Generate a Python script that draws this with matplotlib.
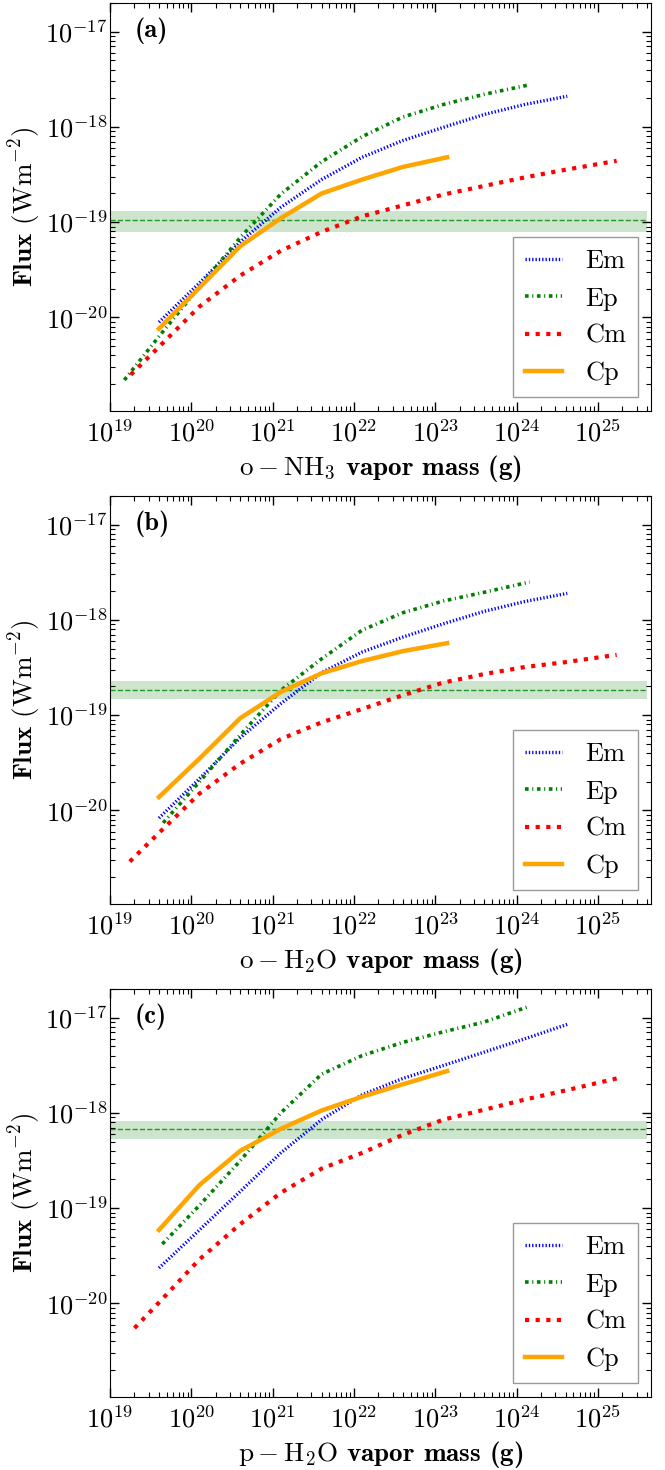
import numpy as np
import matplotlib
matplotlib.use('Agg')
import matplotlib.pyplot as plt
from matplotlib.ticker import LogLocator, FuncFormatter, NullFormatter

plt.rcParams['font.family'] = ['cmr10', 'DejaVu Serif']
plt.rcParams['mathtext.fontset'] = 'cm'
plt.rcParams['axes.unicode_minus'] = False

# ---- vapor mass grid (g) ----
mass_em = [4e19, 1.26e20, 4e20, 1.26e21, 4e21, 1.26e22, 4e22, 1.26e23, 4e23, 1.26e24, 4.2e24]
mass_ep_a = [1.5e19, 4e19, 1.26e20, 4e20, 1.26e21, 4e21, 1.26e22, 4e22, 1.26e23, 4e23, 1.45e24]
mass_ep_b = [4.5e19, 1.26e20, 4e20, 1.26e21, 4e21, 1.26e22, 4e22, 1.26e23, 4e23, 1.45e24]
mass_ep_c = [4.4e19, 1.26e20, 4e20, 1.26e21, 4e21, 1.26e22, 4e22, 1.26e23, 4e23, 1.45e24]
mass_cm_a = [1.8e19, 4e19, 1.26e20, 4e20, 1.26e21, 4e21, 1.26e22, 4e22, 1.26e23, 4e23, 1.26e24, 4e24, 1.7e25]
mass_cm_b = [1.75e19, 4e19, 1.26e20, 4e20, 1.26e21, 4e21, 1.26e22, 4e22, 1.26e23, 4e23, 1.26e24, 4e24, 1.7e25]
mass_cm_c = [2e19, 4e19, 1.26e20, 4e20, 1.26e21, 4e21, 1.26e22, 4e22, 1.26e23, 4e23, 1.26e24, 4e24, 1.7e25]
mass_cp = [4e19, 1.26e20, 4e20, 1.26e21, 4e21, 1.26e22, 4e22, 1.4e23]

# ---- line flux (W m^-2) ----
# (a) o-NH3
em_a = [8.9e-21, 2.3e-20, 6.2e-20, 1.43e-19, 2.8e-19, 4.8e-19, 7.2e-19, 9.9e-19, 1.35e-18, 1.72e-18, 2.1e-18]
ep_a = [2.2e-21, 6.3e-21, 2.1e-20, 6.9e-20, 1.97e-19, 4.3e-19, 7.9e-19, 1.27e-18, 1.72e-18, 2.2e-18, 2.77e-18]
cm_a = [2.5e-21, 4.9e-21, 1.3e-20, 2.75e-20, 5.0e-20, 7.9e-20, 1.15e-19, 1.5e-19, 1.95e-19, 2.4e-19, 2.95e-19, 3.55e-19, 4.4e-19]
cp_a = [7.6e-21, 2.05e-20, 5.6e-20, 1.1e-19, 2.0e-19, 2.8e-19, 3.8e-19, 4.8e-19]

# (b) o-H2O
em_b = [8.3e-21, 2.15e-20, 5.8e-20, 1.32e-19, 2.8e-19, 4.6e-19, 6.6e-19, 9.1e-19, 1.23e-18, 1.56e-18, 1.9e-18]
ep_b = [7.4e-21, 2.0e-20, 6.2e-20, 1.82e-19, 3.9e-19, 7.8e-19, 1.19e-18, 1.58e-18, 1.95e-18, 2.5e-18]
cm_b = [2.9e-21, 5.8e-21, 1.5e-20, 3.1e-20, 5.6e-20, 8.4e-20, 1.16e-19, 1.62e-19, 2.2e-19, 2.7e-19, 3.2e-19, 3.6e-19, 4.3e-19]
cp_b = [1.38e-20, 3.5e-20, 9.3e-20, 1.75e-19, 2.75e-19, 3.7e-19, 4.7e-19, 5.7e-19]

# (c) p-H2O
em_c = [2.35e-20, 5.9e-20, 1.5e-19, 3.8e-19, 8.5e-19, 1.55e-18, 2.3e-18, 3.15e-18, 4.35e-18, 6.0e-18, 8.5e-18]
ep_c = [4.2e-20, 1.07e-19, 3.15e-19, 1.0e-18, 2.55e-18, 4.0e-18, 5.5e-18, 7.1e-18, 9.0e-18, 1.32e-17]
cm_c = [5.5e-21, 1.02e-20, 2.9e-20, 6.8e-20, 1.45e-19, 2.6e-19, 3.8e-19, 5.9e-19, 8.5e-19, 1.08e-18, 1.38e-18, 1.72e-18, 2.3e-18]
cp_c = [5.9e-20, 1.75e-19, 4.0e-19, 6.8e-19, 1.06e-18, 1.48e-18, 2.0e-18, 2.75e-18]

# observed flux: (value, lower, upper)
obs_a = [1.05e-19, 0.79e-19, 1.3e-19]
obs_b = [1.84e-19, 1.46e-19, 2.26e-19]
obs_c = [6.8e-19, 5.3e-19, 8.2e-19]
obs_mass = [1e19, 4e25]

panel_tags = ['(a)', '(b)', '(c)']
species = [r'$\mathrm{o} - \mathrm{NH_3}$', r'$\mathrm{o} - \mathrm{H_2O}$', r'$\mathrm{p} - \mathrm{H_2O}$']

FS = 19      # ticks, legend
LFS = 19.5   # axis labels


def style_axes(ax):
    ax.set_xscale('log')
    ax.set_yscale('log')
    ax.set_xlim(1e19, 4.5e25)
    ax.set_ylim(1.04e-21, 2e-17)
    fmt = FuncFormatter(lambda v, p: r'$10^{%d}$' % int(round(np.log10(v))))
    for axis in (ax.xaxis, ax.yaxis):
        axis.set_major_locator(LogLocator(base=10, numticks=20))
        axis.set_minor_locator(LogLocator(base=10, subs=np.arange(2, 10), numticks=20))
        axis.set_major_formatter(fmt)
        axis.set_minor_formatter(NullFormatter())
    ax.tick_params(which='both', direction='in', top=True, right=True, labelsize=FS)
    ax.tick_params(which='major', length=6.5, width=1.0)
    ax.tick_params(which='minor', length=3.5, width=0.8)
    ax.tick_params(axis='x', pad=6)
    ax.tick_params(axis='y', pad=2)


def draw_panel(ax, tag, spec, em, ep, ep_mass, cm, cm_mass, cp, obs):
    ax.fill_between(obs_mass, obs[1], obs[2], color='green', alpha=0.2, lw=0)
    ax.plot(obs_mass, [obs[0], obs[0]], color='green', ls='--', lw=1.0, alpha=0.8)

    ax.plot(mass_em, em, color='blue', lw=2.4, ls=(0, (0.4, 0.6)), label='Em')
    ax.plot(ep_mass, ep, color='green', lw=2.6, ls=(0, (1, 1, 0.3, 1)), label='Ep')
    ax.plot(cm_mass, cm, color='red', lw=3.0, ls=(0, (1, 1.55)), label='Cm')
    ax.plot(mass_cp, cp, color='orange', lw=3.2, ls='-', label='Cp')

    style_axes(ax)
    ax.set_ylabel(r'Flux $(\mathrm{Wm^{-2}})$', fontsize=LFS, family='cmb10')
    ax.yaxis.set_label_coords(-0.122, 0.5)
    ax.set_xlabel(spec + ' vapor mass (g)', fontsize=LFS, family='cmb10')
    ax.xaxis.set_label_coords(0.5, -0.103)
    ax.text(0.045, 0.965, tag, transform=ax.transAxes, fontsize=FS,
            family='cmb10', va='top', ha='left')

    leg = ax.legend(loc='lower right', bbox_to_anchor=(0.9765, 0.0336), borderaxespad=0,
                    fontsize=FS, fancybox=False, framealpha=1, edgecolor='#999999',
                    handlelength=1.4, handletextpad=0.9, labelspacing=0.52,
                    borderpad=0.45)
    leg.get_frame().set_linewidth(1.0)


fig = plt.figure(figsize=(6.65, 14.7), dpi=100)
W = 1470.0
boxes = [(3, 411), (496, 904), (989, 1397)]
left, width = 110 / 665.0, 541 / 665.0

series = [
    (em_a, ep_a, mass_ep_a, cm_a, mass_cm_a, cp_a, obs_a),
    (em_b, ep_b, mass_ep_b, cm_b, mass_cm_b, cp_b, obs_b),
    (em_c, ep_c, mass_ep_c, cm_c, mass_cm_c, cp_c, obs_c),
]

for (top, bot), tag, spec, s in zip(boxes, panel_tags, species, series):
    ax = fig.add_axes([left, 1 - bot / W, width, (bot - top) / W])
    draw_panel(ax, tag, spec, *s)

fig.savefig('out.png', dpi=100)
